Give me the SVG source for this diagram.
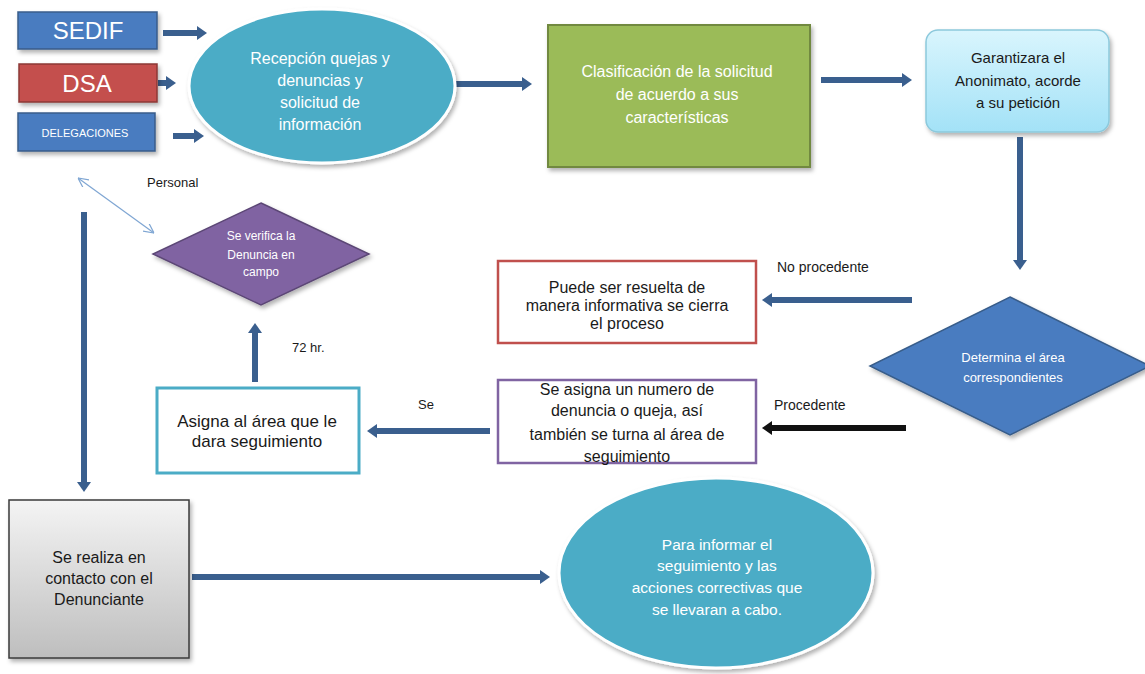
<svg xmlns="http://www.w3.org/2000/svg" width="1145" height="674" viewBox="0 0 1145 674">
<style>
text{font-family:"Liberation Sans",Arial,sans-serif;text-anchor:middle}
.w{fill:#ffffff}
.k{fill:#1a1a1a}
.lbl{fill:#1a1a1a;font-size:13px;text-anchor:start}
.arr{stroke:#3A5F8E;stroke-width:6;fill:none;marker-end:url(#ah)}
.arrk{stroke:#111111;stroke-width:6;fill:none;marker-end:url(#ahk)}
</style>
<defs>
<marker id="ah" viewBox="0 -7 10 14" refX="0" refY="0" markerWidth="10" markerHeight="14" markerUnits="userSpaceOnUse" orient="auto"><path d="M0,-7 L10,0 L0,7z" fill="#3A5F8E"/></marker>
<marker id="ahk" viewBox="0 -7 10 14" refX="0" refY="0" markerWidth="10" markerHeight="14" markerUnits="userSpaceOnUse" orient="auto"><path d="M0,-7 L10,0 L0,7z" fill="#111111"/></marker>
<marker id="ahv" viewBox="0 -5 10 10" refX="10" refY="0" markerWidth="10" markerHeight="10" markerUnits="userSpaceOnUse" orient="auto-start-reverse"><path d="M0,-5 L10,0 L0,5" fill="none" stroke="#7FA6D3" stroke-width="1.2"/></marker>
<linearGradient id="gcyan" x1="0" y1="0" x2="0" y2="1"><stop offset="0" stop-color="#D9F5FD"/><stop offset="1" stop-color="#A3E2F7"/></linearGradient>
<linearGradient id="ggray" x1="0" y1="0" x2="0" y2="1"><stop offset="0" stop-color="#F4F4F4"/><stop offset="1" stop-color="#BEBEBE"/></linearGradient>
<filter id="sh" x="-10%" y="-10%" width="130%" height="130%"><feDropShadow dx="2" dy="3" stdDeviation="2" flood-color="#000" flood-opacity="0.3"/></filter>
</defs>

<g id="connectors">
<line class="arr" x1="163" y1="33" x2="197" y2="33"/>
<line class="arr" x1="158" y1="83" x2="166" y2="83"/>
<line class="arr" x1="173" y1="136" x2="194" y2="136"/>
<line class="arr" x1="453" y1="84" x2="522" y2="84"/>
<line class="arr" x1="821" y1="80" x2="902" y2="80"/>
<line class="arr" x1="1020" y1="137" x2="1020" y2="260"/>
<line class="arr" x1="912" y1="300" x2="772" y2="300"/>
<line class="arrk" x1="906" y1="428" x2="772" y2="428"/>
<line class="arr" x1="490" y1="431" x2="377" y2="431"/>
<line class="arr" x1="255" y1="382" x2="255" y2="333"/>
<line class="arr" x1="84" y1="212" x2="84" y2="482"/>
<line class="arr" x1="192" y1="577" x2="540" y2="577"/>
<line x1="78" y1="178" x2="154" y2="233" stroke="#7FA6D3" stroke-width="1.2" marker-start="url(#ahv)" marker-end="url(#ahv)"/>
<text class="lbl" x="147" y="187">Personal</text>
<text class="lbl" x="777" y="272" style="font-size:14px">No procedente</text>
<text class="lbl" x="774" y="410" style="font-size:14px">Procedente</text>
<text class="lbl" x="418" y="409">Se</text>
<text class="lbl" x="292" y="352">72 hr.</text>
</g>

<g id="sedif">
<rect x="18" y="12" width="139" height="37" fill="#4A7CC0" stroke="#385D8A" stroke-width="1.5" filter="url(#sh)"/>
<text class="w" x="88" y="39" font-size="24">SEDIF</text>
</g>
<g id="dsa">
<rect x="19" y="64" width="138" height="38" fill="#C4504D" stroke="#8C3836" stroke-width="1.5" filter="url(#sh)"/>
<text class="w" x="87" y="92" font-size="24">DSA</text>
</g>
<g id="delegaciones">
<rect x="18" y="113" width="137" height="38" fill="#4A7CC0" stroke="#385D8A" stroke-width="1.5" filter="url(#sh)"/>
<text class="w" x="85" y="137" font-size="11">DELEGACIONES</text>
</g>

<g id="recepcion">
<ellipse cx="322" cy="86" rx="133" ry="77" fill="#4BACC6" stroke="#ffffff" stroke-width="3" filter="url(#sh)"/>
<text class="w" font-size="16" x="320"><tspan x="320" y="64">Recepción quejas y</tspan><tspan x="320" y="86">denuncias  y</tspan><tspan x="320" y="108">solicitud de</tspan><tspan x="320" y="130">información</tspan></text>
</g>

<g id="clasificacion">
<rect x="548" y="25" width="262" height="142" fill="#9BBB59" stroke="#71893F" stroke-width="2" filter="url(#sh)"/>
<text class="w" font-size="16" x="677"><tspan x="677" y="77">Clasificación  de la solicitud</tspan><tspan x="677" y="100">de acuerdo  a sus</tspan><tspan x="677" y="123">características</tspan></text>
</g>

<g id="garantizara">
<rect x="926" y="30" width="183" height="102" rx="12" fill="url(#gcyan)" stroke="#8CC9DC" stroke-width="1.5" filter="url(#sh)"/>
<text class="k" font-size="15" x="1018"><tspan x="1018" y="63">Garantizara el</tspan><tspan x="1018" y="86">Anonimato, acorde</tspan><tspan x="1018" y="108">a su petición</tspan></text>
</g>

<g id="determina">
<polygon points="1010,297 1150,366 1010,435 870,366" fill="#4A7CC0" stroke="#385D8A" stroke-width="1.5" filter="url(#sh)"/>
<text class="w" font-size="13" x="1013"><tspan x="1013" y="362">Determina el área</tspan><tspan x="1013" y="382">correspondientes</tspan></text>
</g>

<g id="resuelta">
<rect x="498" y="261" width="258" height="82" fill="#ffffff" stroke="#C0504D" stroke-width="2.5"/>
<text class="k" font-size="16" x="627"><tspan x="627" y="293">Puede ser resuelta  de</tspan><tspan x="627" y="311">manera informativa se cierra</tspan><tspan x="627" y="329">el proceso</tspan></text>
</g>

<g id="asigna-numero">
<rect x="498" y="380" width="258" height="83" fill="#ffffff" stroke="#8064A2" stroke-width="2.5"/>
<text class="k" font-size="16" x="627"><tspan x="627" y="395">Se  asigna un numero de</tspan><tspan x="627" y="416">denuncia  o queja, así</tspan><tspan x="627" y="440">también se turna al área de</tspan><tspan x="627" y="462">seguimiento</tspan></text>
</g>

<g id="asigna-area">
<rect x="157" y="388" width="202" height="85" fill="#ffffff" stroke="#4BACC6" stroke-width="3"/>
<text class="k" font-size="17" x="257"><tspan x="257" y="427">Asigna  al área que le</tspan><tspan x="257" y="447">dara seguimiento</tspan></text>
</g>

<g id="verifica">
<polygon points="261,203 369,254 261,305 153,254" fill="#8064A2" stroke="#5C4776" stroke-width="1.5" filter="url(#sh)"/>
<text class="w" font-size="12" x="261"><tspan x="261" y="240">Se verifica  la</tspan><tspan x="261" y="259">Denuncia en</tspan><tspan x="261" y="276">campo</tspan></text>
</g>

<g id="contacto">
<rect x="9" y="500" width="180" height="158" fill="url(#ggray)" stroke="#3A3A3A" stroke-width="1.5" filter="url(#sh)"/>
<text class="k" font-size="16" x="99"><tspan x="99" y="563">Se realiza en</tspan><tspan x="99" y="584">contacto con el</tspan><tspan x="99" y="605">Denunciante</tspan></text>
</g>

<g id="informar">
<ellipse cx="716" cy="573" rx="157" ry="95" fill="#4BACC6" stroke="#ffffff" stroke-width="3" filter="url(#sh)"/>
<text class="w" font-size="15.5" x="717"><tspan x="717" y="550">Para informar el</tspan><tspan x="717" y="571">seguimiento  y las</tspan><tspan x="717" y="593">acciones correctivas  que</tspan><tspan x="717" y="615">se llevaran a cabo.</tspan></text>
</g>
</svg>
